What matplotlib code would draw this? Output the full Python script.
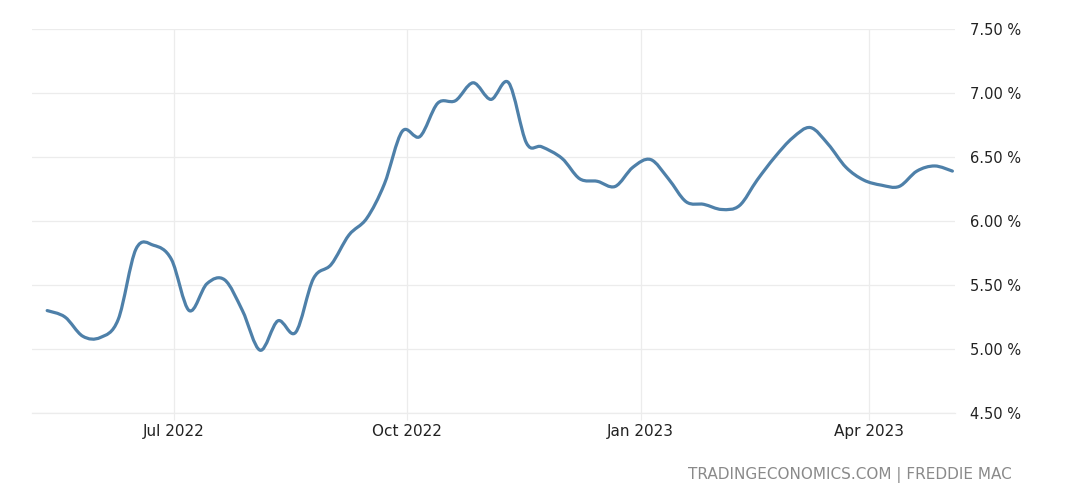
import numpy as np
import matplotlib.pyplot as plt
import matplotlib.dates as mdates
from matplotlib.path import Path
from matplotlib.patches import PathPatch
from matplotlib.ticker import FuncFormatter

plt.rcParams["font.family"] = ["DejaVu Sans"]

# ==========================================
# DATA (weekly 30y mortgage rate, %)
# ==========================================

dates = np.array([
    "2022-05-12", "2022-05-19", "2022-05-26", "2022-06-02", "2022-06-09",
    "2022-06-16", "2022-06-23", "2022-06-30", "2022-07-07", "2022-07-14",
    "2022-07-21", "2022-07-28", "2022-08-04", "2022-08-11", "2022-08-18",
    "2022-08-25", "2022-09-01", "2022-09-08", "2022-09-15", "2022-09-22",
    "2022-09-29", "2022-10-06", "2022-10-13", "2022-10-20", "2022-10-27",
    "2022-11-03", "2022-11-10", "2022-11-17", "2022-11-23", "2022-12-01",
    "2022-12-08", "2022-12-15", "2022-12-22", "2022-12-29", "2023-01-05",
    "2023-01-12", "2023-01-19", "2023-01-26", "2023-02-02", "2023-02-09",
    "2023-02-16", "2023-02-23", "2023-03-02", "2023-03-09", "2023-03-16",
    "2023-03-23", "2023-03-30", "2023-04-06", "2023-04-13", "2023-04-20",
    "2023-04-27", "2023-05-04",
], dtype="datetime64[D]")

rates = [
    5.30, 5.25, 5.10, 5.09, 5.23,
    5.78, 5.81, 5.70, 5.30, 5.51,
    5.54, 5.30, 4.99, 5.22, 5.13,
    5.55, 5.66, 5.89, 6.02, 6.29,
    6.70, 6.66, 6.92, 6.94, 7.08,
    6.95, 7.08, 6.61, 6.58, 6.49,
    6.33, 6.31, 6.27, 6.42, 6.48,
    6.33, 6.15, 6.13, 6.09, 6.12,
    6.32, 6.50, 6.65, 6.73, 6.60,
    6.42, 6.32, 6.28, 6.27, 6.39,
    6.43, 6.39,
]

x_ticks = ["2022-07-01", "2022-10-01", "2023-01-01", "2023-04-01"]
y_ticks = [4.5, 5.0, 5.5, 6.0, 6.5, 7.0, 7.5]

# ==========================================
# THEME
# ==========================================

LINE = "#4e80a9"
GRID = "#ececec"
TEXT = "#222222"
SOURCE = "#8a8a8a"

fig = plt.figure(figsize=(10.8, 5.03), dpi=100, facecolor="white")
ax = fig.add_axes([0.0296, 0.179, 0.8546, 0.7633])

# smooth curve through the weekly points (Catmull-Rom as cubic Beziers)
xs = mdates.date2num(dates.astype("datetime64[s]").astype(object))
ys = np.array(rates)
verts = [(xs[0], ys[0])]
codes = [Path.MOVETO]
n = len(xs)
for i in range(n - 1):
    p0 = np.array([xs[max(i - 1, 0)], ys[max(i - 1, 0)]])
    p1 = np.array([xs[i], ys[i]])
    p2 = np.array([xs[i + 1], ys[i + 1]])
    p3 = np.array([xs[min(i + 2, n - 1)], ys[min(i + 2, n - 1)]])
    c1 = p1 + (p2 - p0) / 6.0
    c2 = p2 - (p3 - p1) / 6.0
    verts += [tuple(c1), tuple(c2), tuple(p2)]
    codes += [Path.CURVE4] * 3

ax.add_patch(PathPatch(Path(verts, codes), facecolor="none",
                       edgecolor=LINE, lw=2.3, capstyle="round",
                       joinstyle="round", zorder=3))

# ==========================================
# AXES
# ==========================================

ax.set_xlim(mdates.datestr2num("2022-05-06"), mdates.datestr2num("2023-05-05"))
ax.set_ylim(4.5, 7.5)

ax.set_xticks(mdates.datestr2num(x_ticks))
ax.xaxis.set_major_formatter(mdates.DateFormatter("%b %Y"))
ax.set_yticks(y_ticks)
ax.yaxis.set_major_formatter(FuncFormatter(lambda v, p: f"{v:.2f} %"))
ax.yaxis.tick_right()

ax.tick_params(axis="x", length=5, color=GRID, labelsize=11,
               labelcolor=TEXT, pad=3)
ax.tick_params(axis="y", length=0, labelsize=10.5, labelcolor=TEXT, pad=11)

for s in ax.spines.values():
    s.set_visible(False)
ax.spines["bottom"].set_visible(True)
ax.spines["bottom"].set_color(GRID)
ax.spines["bottom"].set_linewidth(0.9)

ax.grid(True, color=GRID, lw=0.9, zorder=0)

fig.text(0.937, 0.055, "TRADINGECONOMICS.COM | FREDDIE MAC",
         ha="right", va="center", fontsize=11, color=SOURCE)

plt.savefig("out.png", dpi=100, facecolor="white")
plt.close()
